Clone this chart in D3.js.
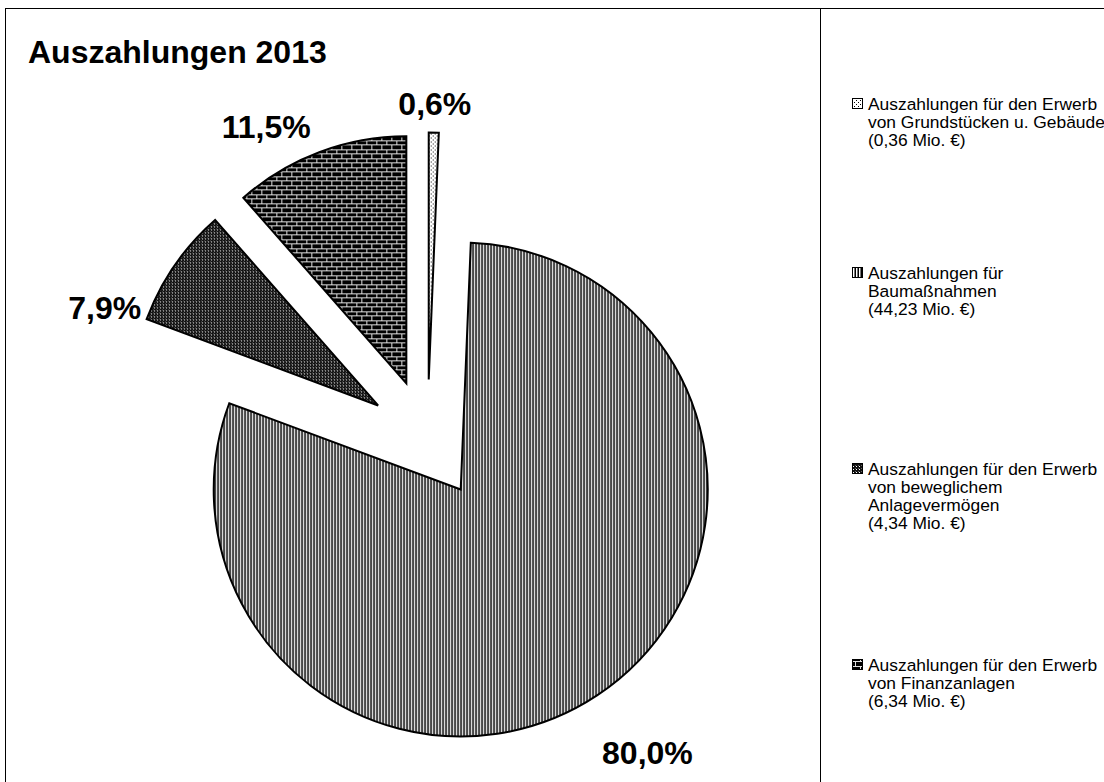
<!DOCTYPE html>
<html>
<head>
<meta charset="utf-8">
<script src="https://cdn.jsdelivr.net/npm/d3@7"></script>
<style>
  html, body { margin: 0; padding: 0; background: #fff; }
  svg { display: block; font-family: "Liberation Sans", Arial, sans-serif; }
</style>
</head>
<body>
<svg id="chart" width="1104" height="782"></svg>
<script>
// ---- data ----
const title = "Auszahlungen 2013";
const categories = [
  "Auszahlungen für den Erwerb von Grundstücken u. Gebäude",
  "Auszahlungen für Baumaßnahmen",
  "Auszahlungen für den Erwerb von beweglichem Anlagevermögen",
  "Auszahlungen für den Erwerb von Finanzanlagen"
];
const values = [0.36, 44.23, 4.34, 6.34];            // Mio. €
const percentLabels = ["0,6%", "80,0%", "7,9%", "11,5%"];
const legendLines = [
  ["Auszahlungen für den Erwerb", "von Grundstücken u. Gebäude", "(0,36 Mio. €)"],
  ["Auszahlungen für", "Baumaßnahmen", "(44,23 Mio. €)"],
  ["Auszahlungen für den Erwerb", "von beweglichem", "Anlagevermögen", "(4,34 Mio. €)"],
  ["Auszahlungen für den Erwerb", "von Finanzanlagen", "(6,34 Mio. €)"]
];

// ---- layout ----
const W = 1104, H = 782;
const cx = 427.5, cy = 439.5, R = 247, explode = 60;
const patternIds = ["pDots", "pVert", "pGrid", "pBrick"];
// label placement: offset from the outer arc point at the slice's mid angle
const labelOffsets = [[1, -29], [50, 58], [-70, 43], [-53, -25]];
const legendTextX = 868, legendMarkX = 852;
const legendFirstBaseline = [110, 279, 475, 671];
const lineStep = 18;

const svg = d3.select("#chart");
const defs = svg.append("defs");

function pattern(id, w, h, bg, rects) {
  const p = defs.append("pattern").attr("id", id)
    .attr("patternUnits", "userSpaceOnUse").attr("width", w).attr("height", h);
  p.append("rect").attr("width", w).attr("height", h).attr("fill", bg);
  rects.forEach(r => p.append("rect").attr("x", r[0]).attr("y", r[1])
    .attr("width", r[2]).attr("height", r[3]).attr("fill", r[4])
    .attr("shape-rendering", "crispEdges"));
}
pattern("pDots", 4, 4, "#fff", [[0, 0, 1, 1, "#000"], [2, 2, 1, 1, "#000"]]);
pattern("pVert", 3, 3, "#fff", [[0, 0, 1, 3, "#000"], [2, 0, 1, 3, "#777"]]);
pattern("pGrid", 3, 3, "#111", [[1, 1, 1, 1, "#fff"], [0, 0, 1, 1, "#666"]]);
pattern("pBrick", 10, 9, "#000", [
  [0, 0, 10, 1, "#e0e0e0"], [0, 4, 10, 1, "#e0e0e0"],
  [0, 0, 1, 4, "#e0e0e0"], [5, 4, 1, 5, "#e0e0e0"]
]);

// frame
svg.append("rect").attr("x", 5.5).attr("y", 8.5).attr("width", W).attr("height", H)
  .attr("fill", "none").attr("stroke", "#000").attr("stroke-width", 1);
svg.append("line").attr("x1", 820.5).attr("x2", 820.5).attr("y1", 8).attr("y2", H)
  .attr("stroke", "#000").attr("stroke-width", 1);

// title
svg.append("text").attr("x", 28).attr("y", 63)
  .attr("font-size", 32).attr("font-weight", "bold").text(title);

// pie
const pie = d3.pie().sort(null).value(d => d).startAngle(0).endAngle(2 * Math.PI);
const arcs = pie(values);
const arc = d3.arc().innerRadius(0).outerRadius(R);

const g = svg.append("g").attr("transform", `translate(${cx},${cy})`);
arcs.forEach((a, i) => {
  const mid = (a.startAngle + a.endAngle) / 2;
  const dx = Math.sin(mid) * explode, dy = -Math.cos(mid) * explode;
  g.append("path")
    .attr("transform", `translate(${dx},${dy})`)
    .attr("d", arc(a))
    .attr("fill", `url(#${patternIds[i]})`)
    .attr("stroke", "#000").attr("stroke-width", 2).attr("stroke-linejoin", "miter");
  const ax = dx + Math.sin(mid) * R + labelOffsets[i][0];
  const ay = dy - Math.cos(mid) * R + labelOffsets[i][1];
  g.append("text").attr("x", ax).attr("y", ay)
    .attr("text-anchor", "middle").attr("dominant-baseline", "central")
    .attr("font-size", 32).attr("font-weight", "bold").text(percentLabels[i]);
});

// legend
categories.forEach((c, i) => {
  const y0 = legendFirstBaseline[i];
  svg.append("rect").attr("x", legendMarkX + 0.5).attr("y", y0 - 11.5)
    .attr("width", 10).attr("height", 10)
    .attr("fill", `url(#${patternIds[i]})`).attr("stroke", "#000").attr("stroke-width", 1);
  const t = svg.append("text").attr("x", legendTextX).attr("y", y0)
    .attr("font-size", 17.4).attr("fill", "#000");
  legendLines[i].forEach((ln, j) => {
    t.append("tspan").attr("x", legendTextX).attr("y", y0 + j * lineStep).text(ln);
  });
});
</script>
</body>
</html>
